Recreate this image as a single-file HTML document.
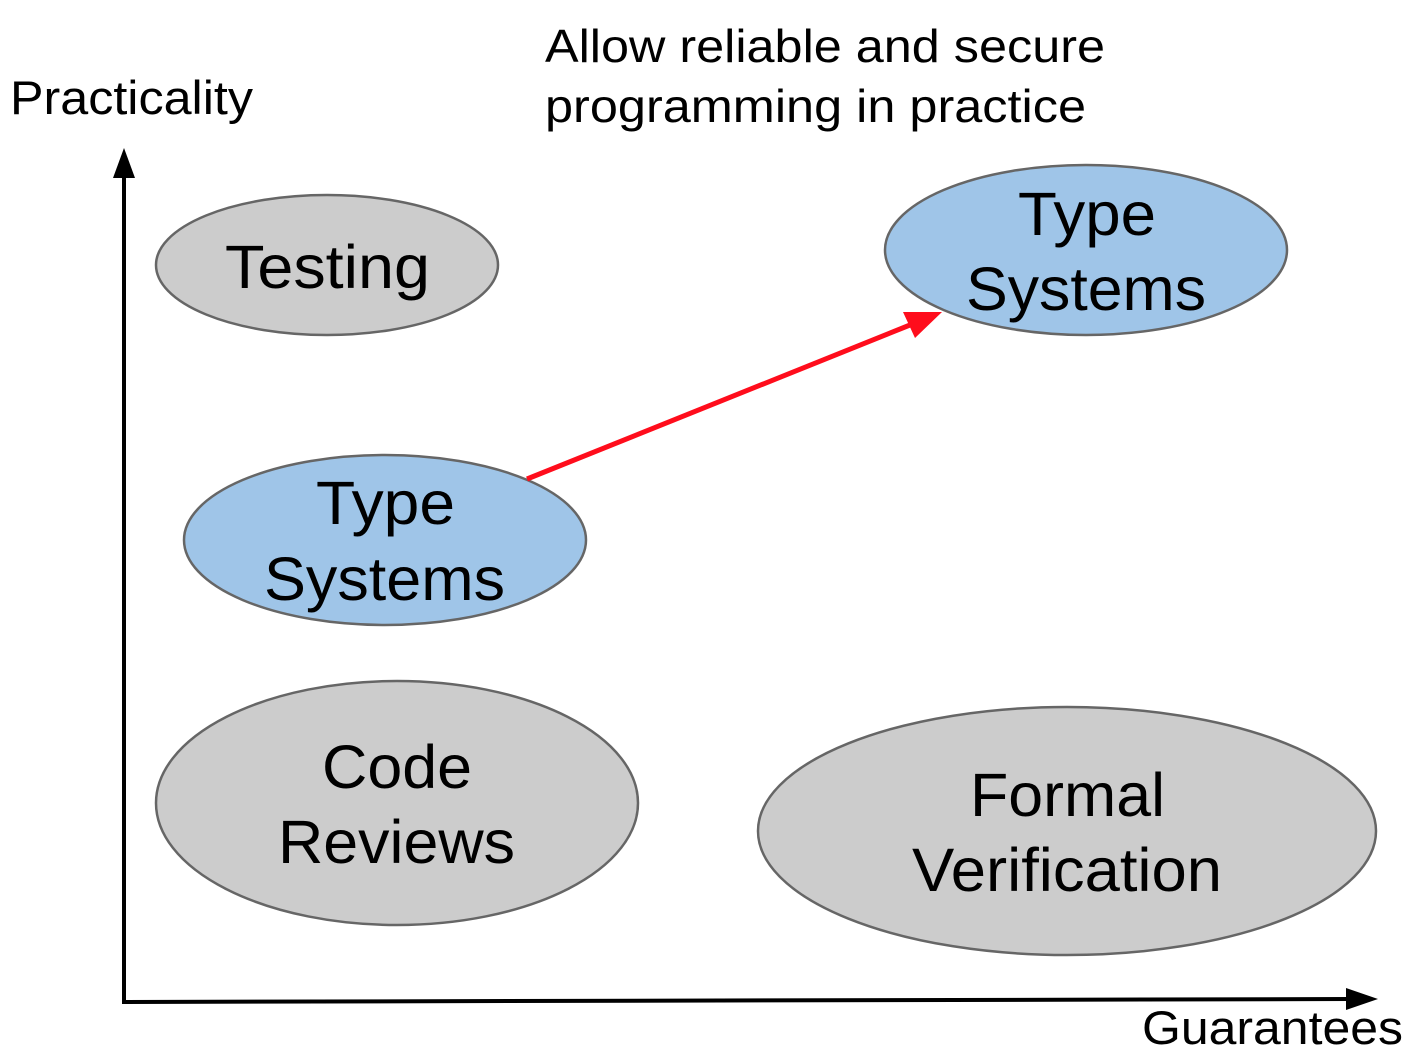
<!DOCTYPE html>
<html><head><style>body{margin:0;background:#fff}svg{display:block}text{font-family:"Liberation Sans",Arial,sans-serif;fill:#000}</style></head>
<body>
<svg width="1416" height="1052" viewBox="0 0 1416 1052" xmlns="http://www.w3.org/2000/svg">
<text x="10" y="114" font-size="47" textLength="243" lengthAdjust="spacingAndGlyphs">Practicality</text>
<text x="545" y="62" font-size="46" textLength="560" lengthAdjust="spacingAndGlyphs">Allow reliable and secure</text>
<text x="545" y="122" font-size="46" textLength="541" lengthAdjust="spacingAndGlyphs">programming in practice</text>
<line x1="124" y1="1003" x2="124" y2="172" stroke="#000" stroke-width="4"/>
<polygon points="124,148 113,178 135,178" fill="#000"/>
<line x1="122" y1="1002" x2="1350" y2="999" stroke="#000" stroke-width="4"/>
<polygon points="1378,999 1346,988 1346,1010" fill="#000"/>
<text x="1142" y="1044" font-size="47" textLength="261" lengthAdjust="spacingAndGlyphs">Guarantees</text>
<g stroke="#666" stroke-width="2.5">
<ellipse cx="327" cy="265" rx="171" ry="70" fill="#cccccc"/>
<ellipse cx="385" cy="540" rx="201" ry="85" fill="#9fc5e8"/>
<ellipse cx="397" cy="803" rx="241" ry="122" fill="#cccccc"/>
<ellipse cx="1067" cy="831" rx="309" ry="124" fill="#cccccc"/>
<ellipse cx="1086" cy="250" rx="201" ry="85" fill="#9fc5e8"/>
</g>
<line x1="527" y1="479" x2="915" y2="323" stroke="#ff0d1c" stroke-width="5"/>
<polygon points="942,312 903,312 915,338" fill="#ff0d1c"/>
<g font-size="61" lengthAdjust="spacingAndGlyphs">
<text x="225" y="288" textLength="205" lengthAdjust="spacingAndGlyphs">Testing</text>
<text x="316" y="524" textLength="139" lengthAdjust="spacingAndGlyphs">Type</text>
<text x="264" y="600" textLength="241" lengthAdjust="spacingAndGlyphs">Systems</text>
<text x="322" y="788" textLength="150" lengthAdjust="spacingAndGlyphs">Code</text>
<text x="278" y="863" textLength="237" lengthAdjust="spacingAndGlyphs">Reviews</text>
<text x="970" y="816" textLength="195" lengthAdjust="spacingAndGlyphs">Formal</text>
<text x="912" y="891" textLength="310" lengthAdjust="spacingAndGlyphs">Verification</text>
<text x="1018" y="235" textLength="138" lengthAdjust="spacingAndGlyphs">Type</text>
<text x="966" y="310" textLength="240" lengthAdjust="spacingAndGlyphs">Systems</text>
</g>
</svg>
</body></html>
